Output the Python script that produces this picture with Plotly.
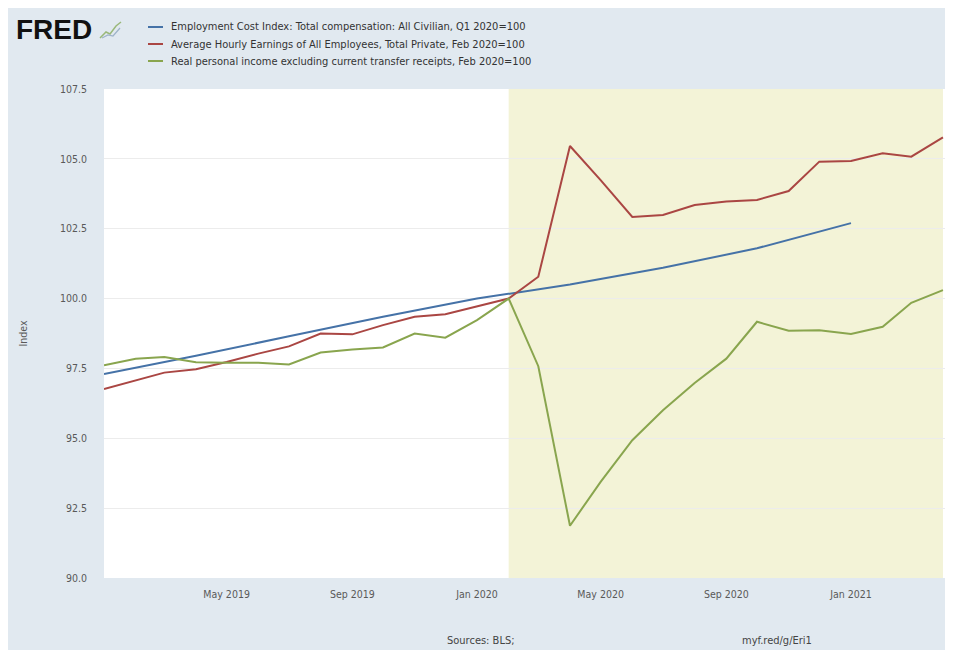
import plotly.graph_objects as go
import pandas as pd

# ---------------- data ----------------
month_dates = [d.strftime("%Y-%m-%d") for d in pd.date_range("2019-01-01", "2021-04-01", freq="MS")]

ahe_values = [96.76, 97.08, 97.35, 97.47, 97.73, 98.03, 98.29, 98.75, 98.72, 99.05, 99.35, 99.44,
              99.73, 100.0, 100.78, 105.46, 104.24, 102.92, 102.99, 103.35, 103.47, 103.53, 103.85, 104.9,
              104.92, 105.2, 105.08, 105.77]

rpi_values = [97.61, 97.85, 97.91, 97.72, 97.70, 97.70, 97.64, 98.07, 98.18, 98.25, 98.75, 98.60,
              99.23, 100.0, 97.58, 91.87, 93.44, 94.93, 96.0, 96.98, 97.85, 99.17, 98.85, 98.87,
              98.73, 98.99, 99.85, 100.3]

quarter_dates = ["2019-01-01", "2019-04-01", "2019-07-01", "2019-10-01", "2020-01-01",
                 "2020-04-01", "2020-07-01", "2020-10-01", "2021-01-01"]
eci_values = [97.3, 97.95, 98.65, 99.35, 100.0, 100.5, 101.1, 101.8, 102.7]

series_names = [
    "Employment Cost Index: Total compensation: All Civilian, Q1 2020=100",
    "Average Hourly Earnings of All Employees, Total Private, Feb 2020=100",
    "Real personal income excluding current transfer receipts, Feb 2020=100",
]
series_colors = ["#4572a7", "#aa4643", "#89a54e"]

x_tick_vals = ["2019-05-01", "2019-09-01", "2020-01-01", "2020-05-01", "2020-09-01", "2021-01-01"]
x_tick_text = ["May 2019", "Sep 2019", "Jan 2020", "May 2020", "Sep 2020", "Jan 2021"]
y_tick_vals = [90.0, 92.5, 95.0, 97.5, 100.0, 102.5, 105.0, 107.5]

recession_start = "2020-02-01"
recession_end = "2021-04-01"

# ---------------- layout helpers ----------------
OFF = 8                      # page body margin
W, H = 953 - OFF, 650 - OFF
# plot area in page pixels: x 104..945, y 89..578
L, R, T, B = 104 - OFF, 953 - 945, 89 - OFF, 650 - 578
PW, PH = W - L - R, H - T - B

def px(x):
    return (x - OFF - L) / PW

def py(y):
    return (H - B - (y - OFF)) / PH

FONT = "DejaVu Sans Condensed, DejaVu Sans, sans-serif"

fig = go.Figure()
fig.add_trace(go.Scatter(x=quarter_dates, y=eci_values, mode="lines", name=series_names[0],
                         line=dict(color=series_colors[0], width=2), showlegend=False))
fig.add_trace(go.Scatter(x=month_dates, y=ahe_values, mode="lines", name=series_names[1],
                         line=dict(color=series_colors[1], width=2), showlegend=False))
fig.add_trace(go.Scatter(x=month_dates, y=rpi_values, mode="lines", name=series_names[2],
                         line=dict(color=series_colors[2], width=2), showlegend=False))

shapes = [
    dict(type="rect", xref="x", yref="paper", x0=recession_start, x1=recession_end, y0=0, y1=1,
         fillcolor="rgb(243,243,215)", line=dict(width=0), layer="below"),
]
annotations = []

# manual legend
for i, (name, col) in enumerate(zip(series_names, series_colors)):
    yc = 27 + i * 17
    shapes.append(dict(type="line", xref="paper", yref="paper", x0=px(148), x1=px(163),
                       y0=py(yc), y1=py(yc), line=dict(color=col, width=2)))
    annotations.append(dict(xref="paper", yref="paper", x=px(169), y=py(yc), text=name,
                            showarrow=False, xanchor="left", yanchor="middle",
                            font=dict(family=FONT, size=11, color="#333333")))

# FRED logo
annotations.append(dict(xref="paper", yref="paper", x=px(14), y=py(29), text="<b>FRED</b>",
                        showarrow=False, xanchor="left", yanchor="middle",
                        font=dict(family="Liberation Sans, Arial, sans-serif", size=28, color="#111111")))
# small graph icon
shapes.append(dict(type="path", xref="paper", yref="paper",
                   path="M %f,%f L %f,%f L %f,%f L %f,%f L %f,%f" % (
                       px(100), py(38), px(106), py(32), px(110), py(34), px(116), py(26), px(121), py(22)),
                   line=dict(color="#9ab87a", width=1.5)))
shapes.append(dict(type="path", xref="paper", yref="paper",
                   path="M %f,%f L %f,%f L %f,%f L %f,%f" % (
                       px(102), py(38), px(108), py(35), px(113), py(36), px(120), py(28)),
                   line=dict(color="#9fb3c8", width=1.2)))

# footer
annotations.append(dict(xref="paper", yref="paper", x=px(481), y=py(640), text="Sources: BLS;",
                        showarrow=False, xanchor="center", yanchor="middle",
                        font=dict(family=FONT, size=11, color="#444444")))
annotations.append(dict(xref="paper", yref="paper", x=px(777), y=py(640), text="myf.red/g/Eri1",
                        showarrow=False, xanchor="center", yanchor="middle",
                        font=dict(family=FONT, size=11, color="#444444")))

fig.update_layout(
    width=W, height=H,
    margin=dict(l=L, r=R, t=T, b=B, autoexpand=False),
    paper_bgcolor="#e1e9f0",
    plot_bgcolor="#ffffff",
    shapes=shapes,
    annotations=annotations,
    font=dict(family=FONT, size=11, color="#595959"),
    xaxis=dict(range=["2019-01-01", "2021-04-03"], tickvals=x_tick_vals, ticktext=x_tick_text,
               showgrid=False, zeroline=False, showline=False, ticks="", ticklabelstandoff=8,
               tickfont=dict(family=FONT, size=10.5, color="#595959")),
    yaxis=dict(range=[90, 107.5], tickvals=y_tick_vals, tickformat=".1f",
               showgrid=True, gridcolor="#ececec", gridwidth=1, zeroline=False, showline=False,
               ticks="", ticklabelstandoff=16,
               tickfont=dict(family=FONT, size=10.5, color="#595959"),
               title=dict(text="Index", standoff=30, font=dict(family=FONT, size=10.5, color="#595959"))),
)

fig.write_html("out.html")
